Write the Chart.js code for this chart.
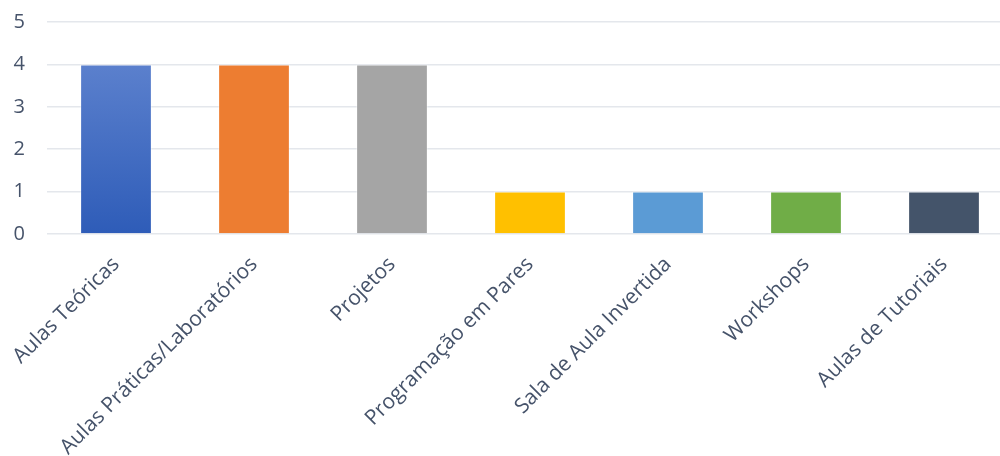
<!DOCTYPE html>
<html>
<head>
<meta charset="utf-8">
<script src="https://cdn.jsdelivr.net/npm/chart.js@4"></script>
<style>
  html, body { margin: 0; padding: 0; background: #ffffff; overflow: hidden; }
  #wrap { position: relative; width: 1013px; height: 468px; margin-top: -12px; }
</style>
</head>
<body>
<div id="wrap"><canvas id="c"></canvas></div>
<script>
const categories = ["Aulas Teóricas", "Aulas Práticas/Laboratórios", "Projetos", "Programação em Pares", "Sala de Aula Invertida", "Workshops", "Aulas de Tutoriais"];
const values = [4, 4, 4, 1, 1, 1, 1];
const yTicks = [0, 1, 2, 3, 4, 5];
const barColors = ["gradient", "#ED7D31", "#A5A5A5", "#FFC000", "#5B9BD5", "#70AD47", "#44546A"];

const textColor = "#46536a";

function barFill(ctx) {
  const c = barColors[ctx.dataIndex];
  if (c !== "gradient") return c;
  const chart = ctx.chart;
  const y = chart.scales.y;
  if (!chart.chartArea || !y) return "#4472C4";
  const top = y.getPixelForValue(values[ctx.dataIndex]);
  const bottom = y.getPixelForValue(0);
  const g = chart.ctx.createLinearGradient(0, top, 0, bottom);
  g.addColorStop(0, "#5b80cd");
  g.addColorStop(1, "#2e5cb8");
  return g;
}

new Chart(document.getElementById("c"), {
  type: "bar",
  data: {
    labels: categories,
    datasets: [{
      data: values,
      backgroundColor: barFill,
      borderColor: "rgba(255,255,255,0.45)",
      borderWidth: 1,
      barPercentage: 0.52,
      categoryPercentage: 1.0
    }]
  },
  options: {
    responsive: true,
    maintainAspectRatio: false,
    animation: false,
    devicePixelRatio: 1,
    layout: { padding: { top: 10, right: 0, left: 0, bottom: 0 } },
    plugins: { legend: { display: false }, tooltip: { enabled: false } },
    scales: {
      x: {
        grid: { display: false },
        border: { display: false },
        ticks: {
          color: textColor,
          font: { family: "'Open Sans'", size: 21 },
          minRotation: 45,
          maxRotation: 45,
          autoSkip: false,
          padding: 10
        },
        afterFit: (s) => { s.height = 222; }
      },
      y: {
        min: 0,
        max: 5,
        afterBuildTicks: (s) => { s.ticks = yTicks.map(v => ({ value: v })); },
        grid: { color: "#e4e7ec", lineWidth: 1.5, drawTicks: false },
        border: { display: false },
        ticks: {
          color: textColor,
          font: { family: "'Open Sans'", size: 20 },
          padding: 22
        },
        afterFit: (s) => { s.width = 47; }
      }
    }
  }
});
</script>
</body>
</html>
